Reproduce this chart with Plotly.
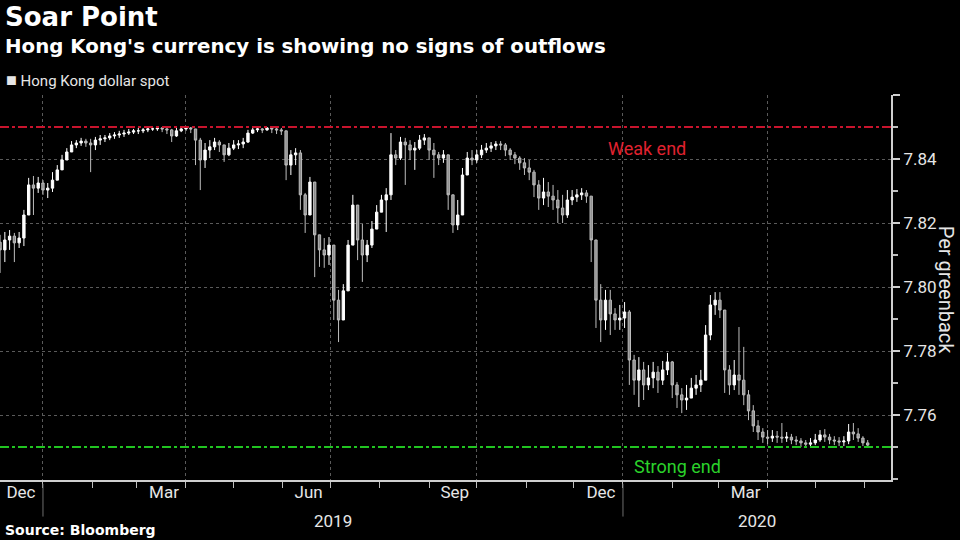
import pandas as pd
import plotly.graph_objects as go

# ---------------- data ----------------
start_date = "2018-12-05"          # first candle, one candle every 3 days
first_open = 7.8140

close = [
    7.8116, 7.8147, 7.8159, 7.8138, 7.8153, 7.8225, 7.8319, 7.8309, 7.8325, 7.8303,
    7.8309, 7.8334, 7.8366, 7.8397, 7.8422, 7.8444, 7.8450, 7.8456, 7.8450, 7.8444,
    7.8459, 7.8463, 7.8466, 7.8472, 7.8475, 7.8478, 7.8481, 7.8484, 7.8488, 7.8488,
    7.8491, 7.8494, 7.8494, 7.8497, 7.8494, 7.8491, 7.8472, 7.8488, 7.8494, 7.8497,
    7.8494, 7.8459, 7.8397, 7.8428, 7.8438, 7.8453, 7.8444, 7.8413, 7.8434, 7.8444,
    7.8447, 7.8453, 7.8481, 7.8491, 7.8494, 7.8491, 7.8497, 7.8494, 7.8491, 7.8488,
    7.8381, 7.8413, 7.8419, 7.8288, 7.8225, 7.8328, 7.8163, 7.8116, 7.8100, 7.8131,
    7.7959, 7.7897, 7.7988, 7.8131, 7.8256, 7.8147, 7.8100, 7.8131, 7.8181, 7.8234,
    7.8272, 7.8288, 7.8413, 7.8403, 7.8453, 7.8444, 7.8428, 7.8434, 7.8459, 7.8466,
    7.8428, 7.8413, 7.8403, 7.8413, 7.8288, 7.8194, 7.8225, 7.8350, 7.8403, 7.8397,
    7.8413, 7.8428, 7.8434, 7.8441, 7.8447, 7.8444, 7.8428, 7.8413, 7.8403, 7.8388,
    7.8372, 7.8359, 7.8319, 7.8278, 7.8297, 7.8284, 7.8272, 7.8247, 7.8225, 7.8272,
    7.8281, 7.8288, 7.8294, 7.8284, 7.8147, 7.7959, 7.7897, 7.7959, 7.7916, 7.7897,
    7.7903, 7.7922, 7.7772, 7.7709, 7.7741, 7.7694, 7.7716, 7.7734, 7.7709, 7.7741,
    7.7766, 7.7694, 7.7663, 7.7647, 7.7653, 7.7684, 7.7694, 7.7709, 7.7850, 7.7944,
    7.7959, 7.7928, 7.7741, 7.7694, 7.7725, 7.7709, 7.7663, 7.7613, 7.7566, 7.7547,
    7.7531, 7.7528, 7.7534, 7.7531, 7.7528, 7.7531, 7.7522, 7.7519, 7.7513, 7.7509,
    7.7513, 7.7522, 7.7538, 7.7531, 7.7522, 7.7519, 7.7516, 7.7519, 7.7547, 7.7541,
    7.7528, 7.7513, 7.7506,
]

high = [
    7.8163, 7.8172, 7.8178, 7.8169, 7.8172, 7.8241, 7.8341, 7.8347, 7.8344, 7.8334,
    7.8325, 7.8359, 7.8381, 7.8413, 7.8434, 7.8456, 7.8459, 7.8466, 7.8463, 7.8463,
    7.8469, 7.8475, 7.8475, 7.8481, 7.8484, 7.8488, 7.8491, 7.8494, 7.8494, 7.8497,
    7.8497, 7.8500, 7.8500, 7.8500, 7.8500, 7.8497, 7.8494, 7.8497, 7.8500, 7.8500,
    7.8500, 7.8491, 7.8466, 7.8450, 7.8459, 7.8466, 7.8459, 7.8444, 7.8450, 7.8459,
    7.8459, 7.8466, 7.8491, 7.8497, 7.8500, 7.8497, 7.8500, 7.8500, 7.8497, 7.8497,
    7.8484, 7.8428, 7.8434, 7.8428, 7.8294, 7.8344, 7.8288, 7.8156, 7.8153, 7.8156,
    7.8116, 7.7991, 7.8009, 7.8147, 7.8288, 7.8256, 7.8197, 7.8147, 7.8206, 7.8256,
    7.8288, 7.8309, 7.8481, 7.8428, 7.8469, 7.8466, 7.8459, 7.8453, 7.8475, 7.8478,
    7.8466, 7.8450, 7.8422, 7.8428, 7.8403, 7.8278, 7.8272, 7.8372, 7.8422, 7.8428,
    7.8428, 7.8444, 7.8450, 7.8453, 7.8456, 7.8456, 7.8450, 7.8434, 7.8422, 7.8409,
    7.8403, 7.8397, 7.8366, 7.8334, 7.8341, 7.8328, 7.8319, 7.8303, 7.8288, 7.8303,
    7.8303, 7.8306, 7.8309, 7.8303, 7.8278, 7.8084, 7.8009, 7.7991, 7.7991, 7.7934,
    7.7944, 7.7953, 7.7928, 7.7788, 7.7781, 7.7766, 7.7756, 7.7766, 7.7753, 7.7769,
    7.7794, 7.7769, 7.7703, 7.7684, 7.7694, 7.7716, 7.7725, 7.7741, 7.7881, 7.7975,
    7.7984, 7.7984, 7.7913, 7.7756, 7.7772, 7.7875, 7.7813, 7.7678, 7.7631, 7.7584,
    7.7559, 7.7553, 7.7553, 7.7550, 7.7575, 7.7547, 7.7541, 7.7534, 7.7528, 7.7522,
    7.7528, 7.7541, 7.7553, 7.7556, 7.7541, 7.7534, 7.7531, 7.7534, 7.7572, 7.7575,
    7.7559, 7.7534, 7.7522,
]

low = [
    7.8044, 7.8078, 7.8116, 7.8078, 7.8122, 7.8128, 7.8234, 7.8225, 7.8294, 7.8288,
    7.8278, 7.8297, 7.8341, 7.8372, 7.8397, 7.8428, 7.8434, 7.8441, 7.8438, 7.8359,
    7.8428, 7.8444, 7.8453, 7.8459, 7.8463, 7.8466, 7.8469, 7.8475, 7.8478, 7.8478,
    7.8481, 7.8484, 7.8488, 7.8488, 7.8484, 7.8478, 7.8453, 7.8469, 7.8484, 7.8488,
    7.8481, 7.8381, 7.8303, 7.8372, 7.8403, 7.8428, 7.8422, 7.8391, 7.8409, 7.8428,
    7.8431, 7.8434, 7.8450, 7.8478, 7.8484, 7.8481, 7.8488, 7.8481, 7.8478, 7.8475,
    7.8334, 7.8350, 7.8381, 7.8241, 7.8169, 7.8241, 7.8031, 7.8063, 7.8060, 7.8069,
    7.7897, 7.7828, 7.7944, 7.7991, 7.8131, 7.8084, 7.8016, 7.8078, 7.8122, 7.8194,
    7.8234, 7.8172, 7.8272, 7.8381, 7.8397, 7.8319, 7.8397, 7.8366, 7.8428, 7.8444,
    7.8397, 7.8341, 7.8381, 7.8388, 7.8241, 7.8169, 7.8178, 7.8225, 7.8359, 7.8381,
    7.8388, 7.8403, 7.8419, 7.8422, 7.8428, 7.8428, 7.8409, 7.8397, 7.8384, 7.8366,
    7.8350, 7.8334, 7.8281, 7.8241, 7.8256, 7.8250, 7.8241, 7.8200, 7.8200, 7.8216,
    7.8256, 7.8266, 7.8272, 7.8263, 7.8078, 7.7872, 7.7828, 7.7866, 7.7850, 7.7866,
    7.7866, 7.7872, 7.7694, 7.7663, 7.7625, 7.7647, 7.7678, 7.7684, 7.7669, 7.7694,
    7.7725, 7.7653, 7.7622, 7.7606, 7.7616, 7.7659, 7.7663, 7.7672, 7.7741, 7.7834,
    7.7913, 7.7903, 7.7669, 7.7663, 7.7678, 7.7663, 7.7631, 7.7584, 7.7547, 7.7522,
    7.7513, 7.7509, 7.7516, 7.7513, 7.7513, 7.7516, 7.7509, 7.7506, 7.7500, 7.7500,
    7.7500, 7.7506, 7.7516, 7.7516, 7.7509, 7.7506, 7.7503, 7.7503, 7.7509, 7.7522,
    7.7516, 7.7503, 7.7500,
]

weak_end = 7.85
strong_end = 7.75

y_tick_vals = [7.76, 7.78, 7.80, 7.82, 7.84, 7.86]
y_tick_text = ["7.76", "7.78", "7.80", "7.82", "7.84", ""]
quarter_starts = ["2019-01-01", "2019-04-01", "2019-07-01", "2019-10-01", "2020-01-01", "2020-04-01"]
month_labels = ["Dec", "Mar", "Jun", "Sep", "Dec", "Mar"]
year_starts = ["2019-01-01", "2020-01-01"]
year_labels = ["2019", "2020"]

# ---------------- build ----------------
dates = pd.date_range(start_date, periods=len(close), freq="3D")
opens = [first_open] + close[:-1]
highs = [max(h, o, c) for h, o, c in zip(high, opens, close)]
lows = [min(l, o, c) for l, o, c in zip(low, opens, close)]

x_start = pd.Timestamp("2018-12-04 23:00")
x_end = pd.Timestamp("2020-06-17 16:00")

NARROW = "Liberation Sans Narrow, Roboto, Arial, sans-serif"
BOLD = "DejaVu Sans, Verdana, sans-serif"

fig = go.Figure()
fig.add_trace(go.Candlestick(
    x=dates, open=opens, high=highs, low=lows, close=close,
    increasing=dict(line=dict(color="#ffffff", width=1), fillcolor="#ffffff"),
    decreasing=dict(line=dict(color="#bdbdbd", width=1), fillcolor="#8c8c8c"),
    whiskerwidth=0, showlegend=False, hoverinfo="skip", name="Hong Kong dollar spot",
))

fig.add_hline(y=weak_end, line=dict(color="#c8142d", width=2, dash="dashdot"))
fig.add_hline(y=strong_end, line=dict(color="#21c421", width=2, dash="dashdot"))

grey_txt = "#e6e6e6"
fig.update_layout(
    width=960, height=540,
    paper_bgcolor="#000000", plot_bgcolor="#000000",
    margin=dict(l=0, r=69, t=95, b=60),
    showlegend=False,
    xaxis=dict(
        type="date", range=[x_start, x_end],
        rangeslider=dict(visible=False),
        tickmode="array", tickvals=quarter_starts, ticktext=month_labels,
        ticklabelshift=-22, ticklabelstandoff=-10,
        ticks="outside", ticklen=6, tickcolor="#bfbfbf", tickwidth=1,
        tickfont=dict(family=NARROW, size=17, color=grey_txt),
        showgrid=True, gridcolor="#5a5a5a", griddash="dot", gridwidth=1,
        showline=True, linecolor="#cfcfcf", linewidth=2,
        minor=dict(dtick="M1", tick0="2019-01-01", ticks="outside", ticklen=6,
                   tickcolor="#bfbfbf", showgrid=False),
        zeroline=False, fixedrange=True,
    ),
    yaxis=dict(
        side="right", range=[7.7397, 7.86],
        tickmode="array", tickvals=y_tick_vals, ticktext=y_tick_text,
        ticks="outside", ticklen=7, tickcolor="#cfcfcf", tickwidth=2,
        tickfont=dict(family=NARROW, size=17, color=grey_txt),
        showgrid=True, gridcolor="#5a5a5a", griddash="dot", gridwidth=1,
        showline=True, linecolor="#cfcfcf", linewidth=2,
        minor=dict(dtick=0.01, tick0=7.70, ticks="outside", ticklen=5,
                   tickcolor="#bfbfbf", showgrid=False),
        zeroline=False, fixedrange=True,
    ),
)

# year separators and labels under the month labels
for ys in year_starts:
    fig.add_shape(type="line", xref="x", yref="paper", x0=ys, x1=ys, y0=-0.01, y1=-0.095,
                  line=dict(color="#6e6e6e", width=1))
year_ends = year_starts[1:] + [x_end]
for ys, ye, lab in zip(year_starts, year_ends, year_labels):
    mid = pd.Timestamp(ys) + (pd.Timestamp(ye) - pd.Timestamp(ys)) / 2
    fig.add_annotation(x=mid, xref="x", y=-0.106, yref="paper", text=lab, showarrow=False,
                       font=dict(family=NARROW, size=17, color=grey_txt), xanchor="center", yanchor="middle")

# titles
fig.add_annotation(x=0.003, xref="paper", y=1.203, yref="paper", text="<b>Soar Point</b>", showarrow=False,
                   xanchor="left", yanchor="middle", font=dict(family=BOLD, size=26, color="#ffffff"))
fig.add_annotation(x=0.003, xref="paper", y=1.125, yref="paper",
                   text="<b>Hong Kong's currency is showing no signs of outflows</b>", showarrow=False,
                   xanchor="left", yanchor="middle", font=dict(family=BOLD, size=19.8, color="#ffffff"))
fig.add_annotation(x=0.004, xref="paper", y=1.039, yref="paper",
                   text="<span style='font-size:18px'>■</span> Hong Kong dollar spot", showarrow=False,
                   xanchor="left", yanchor="middle", font=dict(family=NARROW, size=15, color=grey_txt))
fig.add_annotation(x=0.003, xref="paper", y=-0.13, yref="paper", text="<b>Source: Bloomberg</b>", showarrow=False,
                   xanchor="left", yanchor="middle", font=dict(family=BOLD, size=14, color="#ffffff"))
fig.add_annotation(x=1.062, xref="paper", y=0.4935, yref="paper", text="Per greenback", showarrow=False,
                   textangle=90, xanchor="center", yanchor="middle",
                   font=dict(family=NARROW, size=20, color=grey_txt))
fig.add_annotation(x=0.726, xref="paper", y=0.862, yref="paper", text="Weak end", showarrow=False,
                   xanchor="center", yanchor="middle", font=dict(family=NARROW, size=18, color="#e0222f"))
fig.add_annotation(x=0.760, xref="paper", y=0.034, yref="paper", text="Strong end", showarrow=False,
                   xanchor="center", yanchor="middle", font=dict(family=NARROW, size=18, color="#2bd12b"))

fig.write_html("out.html", config=dict(displayModeBar=False),
               post_script="document.body.style.margin='0';document.body.style.background='#000';")
